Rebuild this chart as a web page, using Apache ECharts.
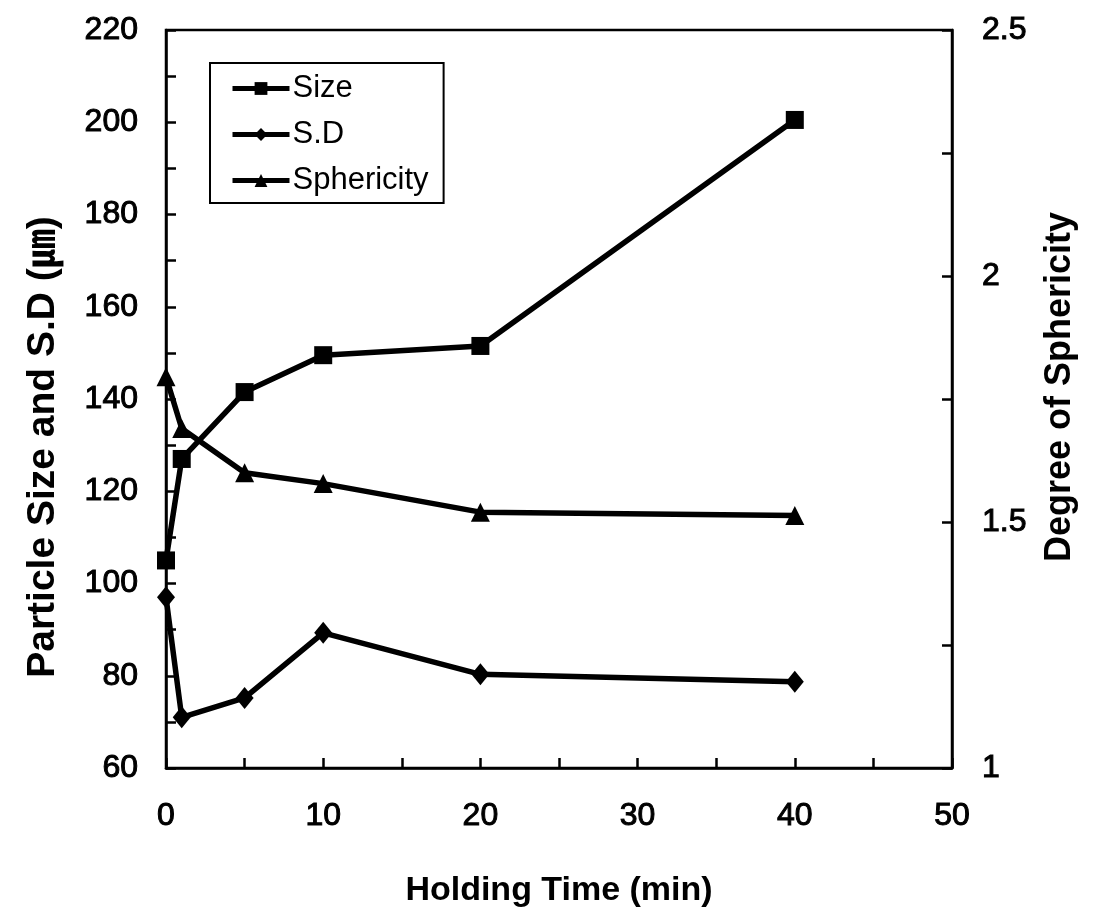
<!DOCTYPE html>
<html>
<head>
<meta charset="utf-8">
<script src="https://cdn.jsdelivr.net/npm/echarts@6/dist/echarts.min.js"></script>
<style>
  html, body { margin: 0; padding: 0; background: #fff; }
  #chart { width: 1094px; height: 919px; }
</style>
</head>
<body>
<div id="chart"></div>
<script>
// holding time (min)
var times = [0, 1, 5, 10, 20, 40];
// particle size (um)
var sizeVals = [105, 127, 141.5, 149.5, 151.5, 200.5];
// standard deviation (um)
var sdVals = [97, 71, 75.2, 89.3, 80.3, 78.7];
// degree of sphericity
var sphVals = [1.795, 1.69, 1.6, 1.578, 1.52, 1.513];

var seriesNames = ['Size', 'S.D', 'Sphericity'];

function pairs(vals) {
	return times.map(function (t, i) { return [t, vals[i]]; });
}

var fontFam = '"Liberation Sans", Arial, "Noto Sans CJK SC", sans-serif';
var tickStyle = {
	color: '#000', fontSize: 32, fontFamily: fontFam,
	textBorderColor: '#000', textBorderWidth: 1
};
var tickLine = { color: '#000', width: 2.5 };

var chart = echarts.init(document.getElementById('chart'));
var option = {
	animation: false,
	backgroundColor: '#fff',
	grid: {
		left: 166, right: 142, top: 30, bottom: 151,
		show: true, borderColor: '#000', borderWidth: 2.5
	},
	legend: {
		left: 210, top: 63,
		orient: 'vertical',
		data: seriesNames,
		itemWidth: 57, itemHeight: 16, itemGap: 15,
		padding: [10, 15, 7, 20],
		borderColor: '#000', borderWidth: 2,
		lineStyle: { width: 5 },
		textStyle: { color: '#000', fontSize: 31, fontFamily: fontFam, padding: [0, 0, 0, -2] }
	},
	xAxis: {
		type: 'value',
		min: 0, max: 50, interval: 10,
		name: 'Holding Time (min)',
		nameLocation: 'middle', nameGap: 106,
		nameTextStyle: { color: '#000', fontSize: 34, fontFamily: fontFam, fontWeight: 'bold' },
		axisLine: { lineStyle: { color: '#000', width: 2.5 } },
		axisTick: { inside: true, length: 10, lineStyle: tickLine },
		minorTick: { show: true, splitNumber: 2, length: 10, lineStyle: tickLine },
		axisLabel: Object.assign({ margin: 32 }, tickStyle),
		splitLine: { show: false }
	},
	yAxis: [{
		type: 'value',
		min: 60, max: 220, interval: 20,
		name: 'Particle Size and S.D (㎛)',
		nameLocation: 'middle', nameGap: 103,
		nameTextStyle: {
			color: '#000', fontSize: 39, fontFamily: fontFam, fontWeight: 'bold',
			padding: [0, 96, 0, 0]
		},
		axisLine: { show: true, lineStyle: { color: '#000', width: 2.5 } },
		axisTick: { inside: true, length: 10, lineStyle: tickLine },
		minorTick: { show: true, splitNumber: 2, length: 10, lineStyle: tickLine },
		axisLabel: Object.assign({ margin: 28 }, tickStyle),
		splitLine: { show: false }
	}, {
		type: 'value',
		min: 1, max: 2.5, interval: 0.5,
		position: 'right',
		name: 'Degree of Sphericity',
		nameLocation: 'middle', nameGap: 90, nameRotate: 90,
		nameTextStyle: {
			color: '#000', fontSize: 36, fontFamily: fontFam, fontWeight: 'bold',
			padding: [0, 0, 0, 24]
		},
		axisLine: { show: true, lineStyle: { color: '#000', width: 2.5 } },
		axisTick: { inside: true, length: 10, lineStyle: tickLine },
		minorTick: { show: true, splitNumber: 2, length: 10, lineStyle: tickLine },
		axisLabel: Object.assign({ margin: 30 }, tickStyle),
		splitLine: { show: false }
	}],
	series: [{
		name: 'Size',
		type: 'line',
		data: pairs(sizeVals),
		symbol: 'rect', symbolSize: 18,
		itemStyle: { color: '#000' },
		lineStyle: { color: '#000', width: 5.5 }
	}, {
		name: 'S.D',
		type: 'line',
		data: pairs(sdVals),
		symbol: 'diamond', symbolSize: [18, 22],
		itemStyle: { color: '#000' },
		lineStyle: { color: '#000', width: 5.5 }
	}, {
		name: 'Sphericity',
		type: 'line',
		yAxisIndex: 1,
		data: pairs(sphVals),
		symbol: 'triangle', symbolSize: 19,
		itemStyle: { color: '#000' },
		lineStyle: { color: '#000', width: 5.5 }
	}]
};
chart.setOption(option);
</script>
</body>
</html>
